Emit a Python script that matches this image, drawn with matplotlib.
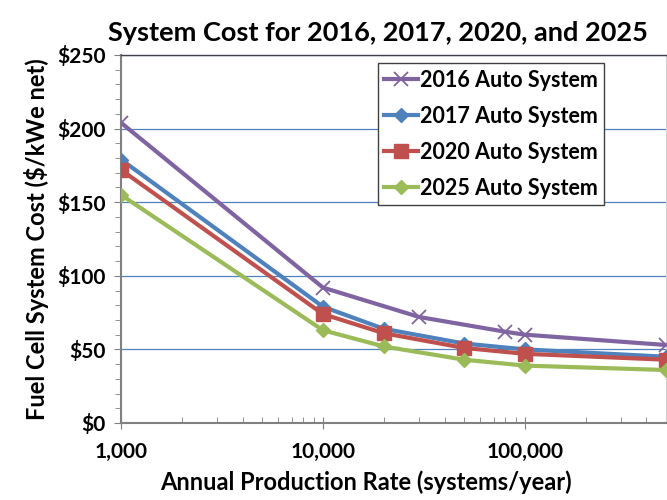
import matplotlib
matplotlib.use("Agg")
import matplotlib.pyplot as plt
from matplotlib.ticker import FixedLocator, FuncFormatter, MultipleLocator, LogLocator, NullFormatter

plt.rcParams['font.family'] = ['Lato', 'DejaVu Sans']
plt.rcParams['font.weight'] = 'bold'

# data
rates_2016 = [1000, 10000, 30000, 80000, 100000, 500000]
cost_2016 = [204, 92, 72, 62, 60, 53]

rates = [1000, 10000, 20000, 50000, 100000, 500000]
cost_2017 = [179, 79, 64, 54, 50, 45]
cost_2020 = [172, 74, 61, 51, 47, 43]
cost_2025 = [155, 63, 52, 43, 39, 36]

fig = plt.figure(figsize=(6.67, 5.0), dpi=100)
ax = fig.add_axes([121/667, 1 - 423/500, 545/667, 368/500])

ax.plot(rates_2016, cost_2016, color='#8064A2', lw=3, marker='x', ms=10, mew=1.3,
        label='2016 Auto System', zorder=3)
ax.plot(rates, cost_2017, color='#4F81BD', lw=3, marker='D', ms=7.5,
        label='2017 Auto System', zorder=3)
ax.plot(rates, cost_2020, color='#C0504D', lw=3, marker='s', ms=9.5,
        label='2020 Auto System', zorder=3)
ax.plot(rates, cost_2025, color='#9BBB59', lw=3, marker='D', ms=7.5,
        label='2025 Auto System', zorder=3)

ax.set_xscale('log')
ax.set_xlim(1000, 500000)
ax.set_ylim(0, 250)

ax.xaxis.set_major_locator(FixedLocator([1000, 10000, 100000]))
ax.xaxis.set_major_formatter(FuncFormatter(lambda v, p: f'{int(v):,}'))
ax.xaxis.set_minor_locator(LogLocator(base=10, subs=range(2, 10)))
ax.xaxis.set_minor_formatter(NullFormatter())
ax.yaxis.set_major_locator(MultipleLocator(50))
ax.yaxis.set_minor_locator(MultipleLocator(10))
ax.yaxis.set_major_formatter(FuncFormatter(lambda v, p: '\\$%d' % v))

ax.grid(axis='y', which='major', color='#4F81BD', lw=0.9)
ax.set_axisbelow(True)

for s in ['left', 'bottom']:
    ax.spines[s].set_color('#808080')
    ax.spines[s].set_linewidth(1.5)
ax.spines['top'].set_color('#404050')
ax.spines['top'].set_linewidth(1.0)
ax.spines['right'].set_color('#d0d0d0')
ax.spines['right'].set_linewidth(0.8)

ax.tick_params(axis='x', which='major', direction='inout', length=8, color='#808080',
               labelsize=15, pad=10)
ax.tick_params(axis='x', which='minor', direction='in', length=4, color='#808080')
ax.tick_params(axis='y', which='major', direction='out', length=5, color='#808080',
               labelsize=15, pad=6)
ax.tick_params(axis='y', which='minor', direction='out', length=4, color='#808080')
for lab in ax.get_xticklabels() + ax.get_yticklabels():
    lab.set_fontweight('bold')

ax.set_title('System Cost for 2016, 2017, 2020, and 2025', fontsize=19.5,
             fontweight='bold', pad=10, x=0.472)
ax.set_xlabel('Annual Production Rate (systems/year)', fontsize=17, fontweight='bold',
              labelpad=6)
ax.xaxis.label.set_x(0.45)
ax.set_ylabel('Fuel Cell System Cost (\\$/kWe net)', fontsize=17, fontweight='bold',
              labelpad=6)

leg = ax.legend(loc='upper right', bbox_to_anchor=(0.886, 0.978), fontsize=15.5,
                frameon=True, fancybox=False, edgecolor='#404040', framealpha=1,
                handlelength=1.6, handletextpad=0.05, borderpad=0.3, labelspacing=0.7,
                borderaxespad=0)
leg.get_frame().set_linewidth(1.0)
for t in leg.get_texts():
    t.set_fontweight('bold')

fig.savefig('out.png', dpi=100)
